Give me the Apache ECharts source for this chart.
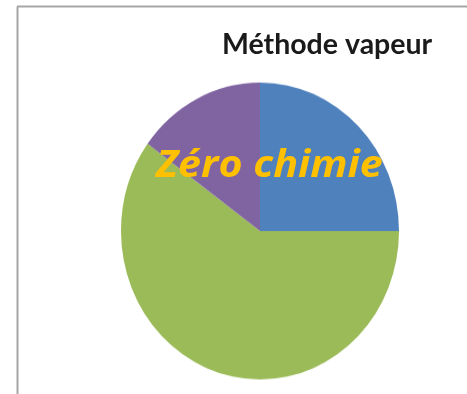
<!DOCTYPE html>
<html>
<head>
<meta charset="utf-8">
<script src="https://cdn.jsdelivr.net/npm/echarts@6/dist/echarts.min.js"></script>
<style>
  html, body { margin: 0; padding: 0; background: #ffffff; }
  #wrap { position: relative; width: 467px; height: 394px; overflow: hidden; }
  #pie, #labels { position: absolute; left: 0; top: 0; width: 467px; height: 394px; }
  /* the pie is drawn slightly taller than wide */
  #pie { transform: scaleY(1.068); transform-origin: 260px 231px; }
</style>
</head>
<body>
<div id="wrap">
  <div id="pie"></div>
  <div id="labels"></div>
</div>
<script>
// Chart content
const chartTitle = 'Méthode vapeur';
const overlayText = 'Zéro chimie';
const categories = ['A', 'B', 'C'];
const values = [25, 60, 15];
const colors = ['#4F81BD', '#9BBB59', '#8064A2'];

const pieChart = echarts.init(document.getElementById('pie'), null, { renderer: 'canvas' });
pieChart.setOption({
  animation: false,
  series: [{
    type: 'pie',
    center: [260, 231],
    radius: [0, 139],
    startAngle: 90,
    clockwise: true,
    label: { show: false },
    labelLine: { show: false },
    itemStyle: { borderWidth: 0 },
    emphasis: { disabled: true },
    data: categories.map((c, i) => ({ name: c, value: values[i], itemStyle: { color: colors[i] } }))
  }]
});

const labelChart = echarts.init(document.getElementById('labels'), null, { renderer: 'canvas' });
labelChart.setOption({
  animation: false,
  backgroundColor: 'transparent',
  title: {
    text: chartTitle,
    left: 217,
    top: 25,
    textStyle: { fontFamily: 'Lato', fontWeight: 'bold', fontSize: 28.5, color: '#1a1a1a' }
  },
  graphic: [
    { type: 'line', shape: { x1: 17.5, y1: 6.5, x2: 17.5, y2: 394 }, style: { stroke: '#a6a6a6', lineWidth: 2 } },
    { type: 'line', shape: { x1: 17, y1: 6.5, x2: 467, y2: 6.5 }, style: { stroke: '#a6a6a6', lineWidth: 2 } },
    {
      type: 'text', x: 156, y: 147, scaleX: 1.085,
      style: { text: overlayText, fontFamily: 'Open Sans', fontWeight: 'bold', fontStyle: 'italic', fontSize: 38, fill: '#FFC000' }
    }
  ]
});
</script>
</body>
</html>
